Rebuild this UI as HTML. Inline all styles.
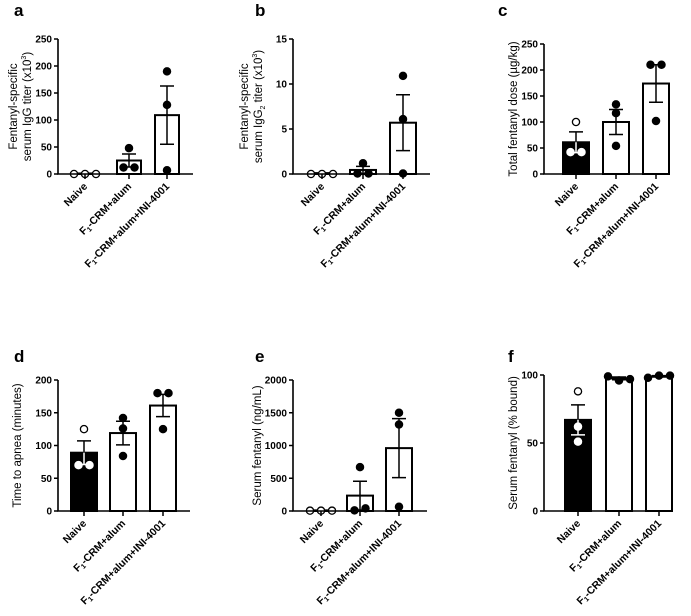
<!DOCTYPE html>
<html><head><meta charset="utf-8"><style>
html,body{margin:0;padding:0;background:#fff;}
svg{display:block;font-family:"Liberation Sans",Arial,sans-serif;}
</style></head><body>
<svg id="fig" width="691" height="616" viewBox="0 0 691 616" xmlns="http://www.w3.org/2000/svg"></svg>
<script>
const groupNames = ["Naive", "F1-CRM+alum", "F1-CRM+alum+INI-4001"];
const aMeans = [1, 25, 109];
const aSem = [0, 12, 54];
const aPoints = [[0, 0, 0], [12, 12, 48], [190, 128, 7]];
const aTicks = [0, 50, 100, 150, 200, 250];
const bMeans = [0.1, 0.45, 5.7];
const bSem = [0, 0.4, 3.1];
const bPoints = [[0, 0, 0], [0.05, 0.05, 1.2], [10.9, 6.1, 0.05]];
const bTicks = [0, 5, 10, 15];
const cMeans = [61, 100, 174];
const cSem = [20, 24, 36];
const cPoints = [[100, 42, 42], [134, 117, 54], [210, 210, 102]];
const cTicks = [0, 50, 100, 150, 200, 250];
const dMeans = [89, 119, 161];
const dSem = [18, 18, 17];
const dPoints = [[125, 70, 70], [142, 126, 84], [180, 180, 125]];
const dTicks = [0, 50, 100, 150, 200];
const eMeans = [10, 235, 960];
const eSem = [0, 220, 450];
const ePoints = [[5, 5, 5], [670, 10, 40], [1500, 1320, 65]];
const eTicks = [0, 500, 1000, 1500, 2000];
const fMeans = [67, 97.5, 99];
const fSem = [11, 1, 0.5];
const fPoints = [[88, 62, 51], [99, 96, 97], [98, 99.5, 99.5]];
const fTicks = [0, 50, 100];

const NS = "http://www.w3.org/2000/svg";
const svg = document.getElementById("fig");
function mk(tag, attrs, parent) {
  const e = document.createElementNS(NS, tag);
  for (const k in attrs) e.setAttribute(k, attrs[k]);
  (parent || svg).appendChild(e);
  return e;
}

function panel(p) {
  const g = mk("g", {});
  
  
  const ymax = p.ticks[p.ticks.length - 1];
  const ys = v => p.y0 - (v / ymax) * (p.y0 - p.yTop);
  const xs = i => p.centers[i];
  const lt = mk("text", {x: p.lx, y: p.ly, "font-size": 17, "font-weight": "bold"}, g);
  lt.textContent = p.letter;
  
  
  p.means.forEach((m, i) => {
    const r = mk("rect", {x: xs(i) - p.bw / 2, y: ys(m), width: p.bw, height: p.y0 - ys(m),
      fill: i === 0 && p.blackNaive ? "#000" : "#fff", stroke: "#000", "stroke-width": 2}, g);
    
    
    if (p.sem[i] > 0) {
      const top = ys(m + p.sem[i]), bot = ys(Math.max(0, m - p.sem[i]));
      const eb = mk("path", {d: `M${xs(i)},${bot}V${top}M${xs(i) - 7},${top}H${xs(i) + 7}M${xs(i) - 7},${bot}H${xs(i) + 7}`,
        stroke: i === 0 && p.blackNaive ? "#fff" : "#000", "stroke-width": 1.5, fill: "none"}, g);
      
      
      if (i === 0 && p.blackNaive) {
        const eb2 = mk("path", {d: `M${xs(i)},${ys(m)}V${top}M${xs(i) - 7},${top}H${xs(i) + 7}`, stroke: "#000", "stroke-width": 1.5}, g);
        
        
      }
    }
  });
  const tol = (p.y0 - p.yTop) * 0.05;
  p.points.forEach((arr, i) => {
    const pys = arr.map(ys);
    arr.forEach((v, j) => {
      const cluster = [];
      pys.forEach((y, k) => { if (Math.abs(y - pys[j]) < tol) cluster.push(k); });
      const rank = cluster.indexOf(j);
      const off = cluster.length === 1 ? 0 : (rank - (cluster.length - 1) / 2) * 11;
      const open = i === 0;
      const c = mk("circle", {cx: xs(i) + off, cy: pys[j], r: 3.6,
        fill: open ? "#fff" : "#000", stroke: open ? (p.blackNaive && v < p.means[0] ? "#fff" : "#000") : "#000", "stroke-width": 1.3}, g);
      
      
    });
  });
  const ax = mk("path", {d: `M${p.ax},${p.yTop}V${p.y0}H${p.xEnd}`, stroke: "#000", "stroke-width": 1.6, fill: "none"}, g);
  
  
  p.ticks.forEach(t => {
    mk("line", {x1: p.ax - 4, x2: p.ax, y1: ys(t), y2: ys(t), stroke: "#000", "stroke-width": 1.5}, g);
    const tx = mk("text", {x: p.ax - 6, y: ys(t) + 3.5, "font-size": 10, "font-weight": "bold", "text-anchor": "end"}, g);
    tx.textContent = t;
    
    
  });
  p.centers.forEach((cx, i) => {
    mk("line", {x1: cx, x2: cx, y1: p.y0, y2: p.y0 + 5, stroke: "#000", "stroke-width": 1.5}, g);
    const tx = mk("text", {transform: `translate(${cx + 3},${p.y0 + 13}) rotate(-45)`, "font-size": 10.5, "font-weight": "bold", "text-anchor": "end"}, g);
    const nm = groupNames[i];
    if (nm.startsWith("F1")) {
      tx.appendChild(document.createTextNode("F"));
      const s = mk("tspan", {"font-size": 7, dy: 2}, tx); s.textContent = "1";
      const r = mk("tspan", {dy: -2}, tx); r.textContent = nm.slice(2);
    } else tx.textContent = nm;
    
    
  });
  const cy = (p.yTop + p.y0) / 2;
  p.title.forEach((line, k) => {
    const tx = mk("text", {transform: `translate(${p.tx + k * 14},${cy}) rotate(-90)`, "font-size": 11.5, "text-anchor": "middle"}, g);
    tx.innerHTML = line;
    
    
  });
}

panel({letter: "a", lx: 14, ly: 16, ax: 58, y0: 174, yTop: 39, xEnd: 193, centers: [85, 129, 167], bw: 24,
  means: aMeans, sem: aSem, points: aPoints, ticks: aTicks, tx: 17,
  title: ["Fentanyl-specific", 'serum IgG titer (x10<tspan font-size="7" dy="-5">3</tspan><tspan dy="5">)</tspan>']});
panel({letter: "b", lx: 255, ly: 16, ax: 293, y0: 174, yTop: 39, xEnd: 430, centers: [322, 363, 403], bw: 26,
  means: bMeans, sem: bSem, points: bPoints, ticks: bTicks, tx: 248,
  title: ["Fentanyl-specific", 'serum IgG<tspan font-size="7" dy="3">2</tspan><tspan dy="-3"> titer (x10</tspan><tspan font-size="7" dy="-5">3</tspan><tspan dy="5">)</tspan>']});
panel({letter: "c", lx: 498, ly: 16, ax: 544, y0: 174, yTop: 44, xEnd: 670, centers: [576, 616, 656], bw: 26, blackNaive: true,
  means: cMeans, sem: cSem, points: cPoints, ticks: cTicks, tx: 517, title: ["Total fentanyl dose (µg/kg)"]});
panel({letter: "d", lx: 14, ly: 362, ax: 58, y0: 511, yTop: 380, xEnd: 190, centers: [84, 123, 163], bw: 26, blackNaive: true,
  means: dMeans, sem: dSem, points: dPoints, ticks: dTicks, tx: 21, title: ["Time to apnea (minutes)"]});
panel({letter: "e", lx: 255, ly: 362, ax: 293, y0: 511, yTop: 380, xEnd: 427, centers: [321, 360, 399], bw: 26,
  means: eMeans, sem: eSem, points: ePoints, ticks: eTicks, tx: 261, title: ["Serum fentanyl (ng/mL)"]});
panel({letter: "f", lx: 508, ly: 362, ax: 544, y0: 511, yTop: 375, xEnd: 670, centers: [578, 619, 659], bw: 26, blackNaive: true,
  means: fMeans, sem: fSem, points: fPoints, ticks: fTicks, tx: 517, title: ["Serum fentanyl (% bound)"]});
</script>
</body></html>
